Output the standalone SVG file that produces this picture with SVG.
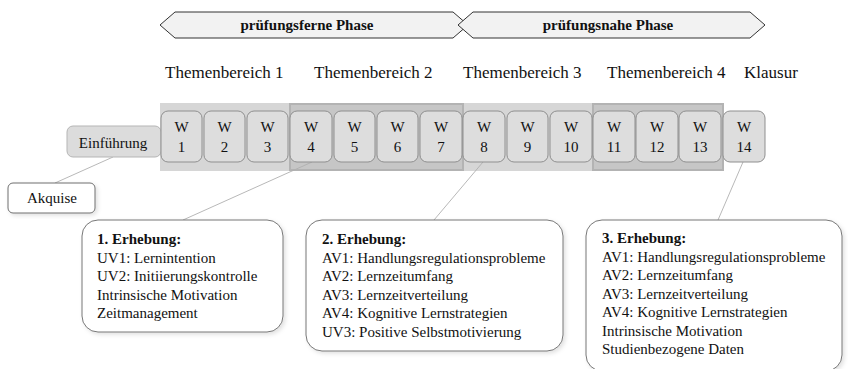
<svg xmlns="http://www.w3.org/2000/svg" width="848" height="369" viewBox="0 0 848 369" font-family="'Liberation Serif', 'Times New Roman', serif">
  <style>
    text, tspan { font-family: "Liberation Serif", "Times New Roman", serif; fill: #111; }
    .phase { fill: #f2f2f2; stroke: #333; stroke-width: 1; }
    .phase-label { font-family: "Liberation Serif", serif; font-size: 15px; font-weight: bold; text-anchor: middle; }
    .topic { font-family: "Liberation Serif", serif; font-size: 17px; }
    .band-light { fill: #d6d6d6; }
    .band-dark { fill: #c6c6c6; stroke: #b3b3b3; stroke-width: 2; }
    .week { fill: #dddddd; stroke: #8f8f8f; stroke-width: 1; }
    .wk { font-family: "Liberation Serif", serif; font-size: 15px; text-anchor: middle; }
    .intro { fill: #dcdcdc; stroke: #b5b5b5; stroke-width: 1; }
    .plain { fill: #ffffff; stroke: #6f6f6f; stroke-width: 1; }
    .survey { fill: #ffffff; stroke: #777; stroke-width: 1; }
    .lbl { font-family: "Liberation Serif", serif; font-size: 15px; }
    .lbl-c { font-family: "Liberation Serif", serif; font-size: 15px; text-anchor: middle; }
    .head { font-weight: bold; }
    .conn line { stroke: #b0b0b0; stroke-width: 0.9; }
  </style>
  <defs>
    <filter id="soft-shadow" x="-10%" y="-10%" width="130%" height="130%">
      <feDropShadow dx="2" dy="2" stdDeviation="2" flood-color="#000" flood-opacity="0.12"/>
    </filter>
  </defs>

  <!-- phase arrows -->
  <g id="phase-far">
    <polygon class="phase" points="160,25 175,12 453,12 468,25 453,38 175,38 160,25"/>
    <text class="phase-label" x="307" y="30">prüfungsferne Phase</text>
  </g>
  <g id="phase-near">
    <polygon class="phase" points="458,25 473,12 750,12 765,25 750,38 473,38 458,25"/>
    <text class="phase-label" x="608" y="30">prüfungsnahe Phase</text>
  </g>

  <!-- topic headings -->
  <g id="topics">
    <text class="topic" x="165" y="78">Themenbereich 1</text>
    <text class="topic" x="314" y="78">Themenbereich 2</text>
    <text class="topic" x="463" y="78">Themenbereich 3</text>
    <text class="topic" x="607" y="78">Themenbereich 4</text>
    <text class="topic" x="744" y="78">Klausur</text>
  </g>

  <!-- topic bands behind the weeks -->
  <g id="bands">
    <rect class="band-light" x="160" y="103" width="563" height="68"/>
    <rect class="band-dark" x="290" y="104" width="173" height="66"/>
    <rect class="band-dark" x="593" y="104" width="130" height="66"/>
  </g>

  <!-- connectors -->
  <g id="connectors" class="conn">
    <line x1="113" y1="157" x2="55" y2="183"/>
    <line x1="312" y1="162" x2="183" y2="220"/>
    <line x1="483" y1="162" x2="434" y2="220"/>
    <line x1="743" y1="162" x2="718" y2="220"/>
  </g>

  <g id="einfuehrung">
    <rect class="intro" x="67" y="126" width="94" height="31" rx="6"/>
    <text class="lbl-c" x="113" y="148">Einführung</text>
  </g>

  <g id="akquise">
    <rect class="plain" x="8" y="183" width="87" height="30" rx="5" filter="url(#soft-shadow)"/>
    <text class="lbl-c" x="52" y="203">Akquise</text>
  </g>

  <!-- weeks -->
  <g id="w1"><rect class="week" x="161" y="111" width="41" height="51" rx="7"/><text class="wk" x="181.5" y="132">W</text><text class="wk" x="181.5" y="152">1</text></g>
  <g id="w2"><rect class="week" x="204" y="111" width="41" height="51" rx="7"/><text class="wk" x="224.5" y="132">W</text><text class="wk" x="224.5" y="152">2</text></g>
  <g id="w3"><rect class="week" x="247" y="111" width="41" height="51" rx="7"/><text class="wk" x="267.5" y="132">W</text><text class="wk" x="267.5" y="152">3</text></g>
  <g id="w4"><rect class="week" x="290" y="111" width="42" height="51" rx="7"/><text class="wk" x="311" y="132">W</text><text class="wk" x="311" y="152">4</text></g>
  <g id="w5"><rect class="week" x="334" y="111" width="41" height="51" rx="7"/><text class="wk" x="354.5" y="132">W</text><text class="wk" x="354.5" y="152">5</text></g>
  <g id="w6"><rect class="week" x="377" y="111" width="41" height="51" rx="7"/><text class="wk" x="397.5" y="132">W</text><text class="wk" x="397.5" y="152">6</text></g>
  <g id="w7"><rect class="week" x="420" y="111" width="42" height="51" rx="7"/><text class="wk" x="441" y="132">W</text><text class="wk" x="441" y="152">7</text></g>
  <g id="w8"><rect class="week" x="463" y="111" width="42" height="51" rx="7"/><text class="wk" x="484" y="132">W</text><text class="wk" x="484" y="152">8</text></g>
  <g id="w9"><rect class="week" x="507" y="111" width="41" height="51" rx="7"/><text class="wk" x="527.5" y="132">W</text><text class="wk" x="527.5" y="152">9</text></g>
  <g id="w10"><rect class="week" x="550" y="111" width="42" height="51" rx="7"/><text class="wk" x="571" y="132">W</text><text class="wk" x="571" y="152">10</text></g>
  <g id="w11"><rect class="week" x="593" y="111" width="42" height="51" rx="7"/><text class="wk" x="614" y="132">W</text><text class="wk" x="614" y="152">11</text></g>
  <g id="w12"><rect class="week" x="636" y="111" width="42" height="51" rx="7"/><text class="wk" x="657" y="132">W</text><text class="wk" x="657" y="152">12</text></g>
  <g id="w13"><rect class="week" x="679" y="111" width="42" height="51" rx="7"/><text class="wk" x="700" y="132">W</text><text class="wk" x="700" y="152">13</text></g>
  <g id="w14"><rect class="week" x="723" y="111" width="42" height="51" rx="7"/><text class="wk" x="744" y="132">W</text><text class="wk" x="744" y="152">14</text></g>

  <!-- surveys -->
  <g id="erhebung-1">
    <rect class="survey" x="82" y="220" width="201" height="112" rx="16" filter="url(#soft-shadow)"/>
    <text class="lbl" x="97">
      <tspan class="head" x="97" y="244">1. Erhebung:</tspan>
      <tspan x="97" y="262.5">UV1: Lernintention</tspan>
      <tspan x="97" y="281">UV2: Initiierungskontrolle</tspan>
      <tspan x="97" y="299.5">Intrinsische Motivation</tspan>
      <tspan x="97" y="318">Zeitmanagement</tspan>
    </text>
  </g>
  <g id="erhebung-2">
    <rect class="survey" x="306" y="220" width="257" height="131" rx="16" filter="url(#soft-shadow)"/>
    <text class="lbl" x="322">
      <tspan class="head" x="322" y="244">2. Erhebung:</tspan>
      <tspan x="322" y="262.5">AV1: Handlungsregulationsprobleme</tspan>
      <tspan x="322" y="281">AV2: Lernzeitumfang</tspan>
      <tspan x="322" y="299.5">AV3: Lernzeitverteilung</tspan>
      <tspan x="322" y="318">AV4: Kognitive Lernstrategien</tspan>
      <tspan x="322" y="336.5">UV3: Positive Selbstmotivierung</tspan>
    </text>
  </g>
  <g id="erhebung-3">
    <rect class="survey" x="586" y="220" width="256" height="151" rx="16" filter="url(#soft-shadow)"/>
    <text class="lbl" x="602">
      <tspan class="head" x="602" y="243">3. Erhebung:</tspan>
      <tspan x="602" y="261.5">AV1: Handlungsregulationsprobleme</tspan>
      <tspan x="602" y="280">AV2: Lernzeitumfang</tspan>
      <tspan x="602" y="298.5">AV3: Lernzeitverteilung</tspan>
      <tspan x="602" y="317">AV4: Kognitive Lernstrategien</tspan>
      <tspan x="602" y="335.5">Intrinsische Motivation</tspan>
      <tspan x="602" y="354">Studienbezogene Daten</tspan>
    </text>
  </g>
</svg>
